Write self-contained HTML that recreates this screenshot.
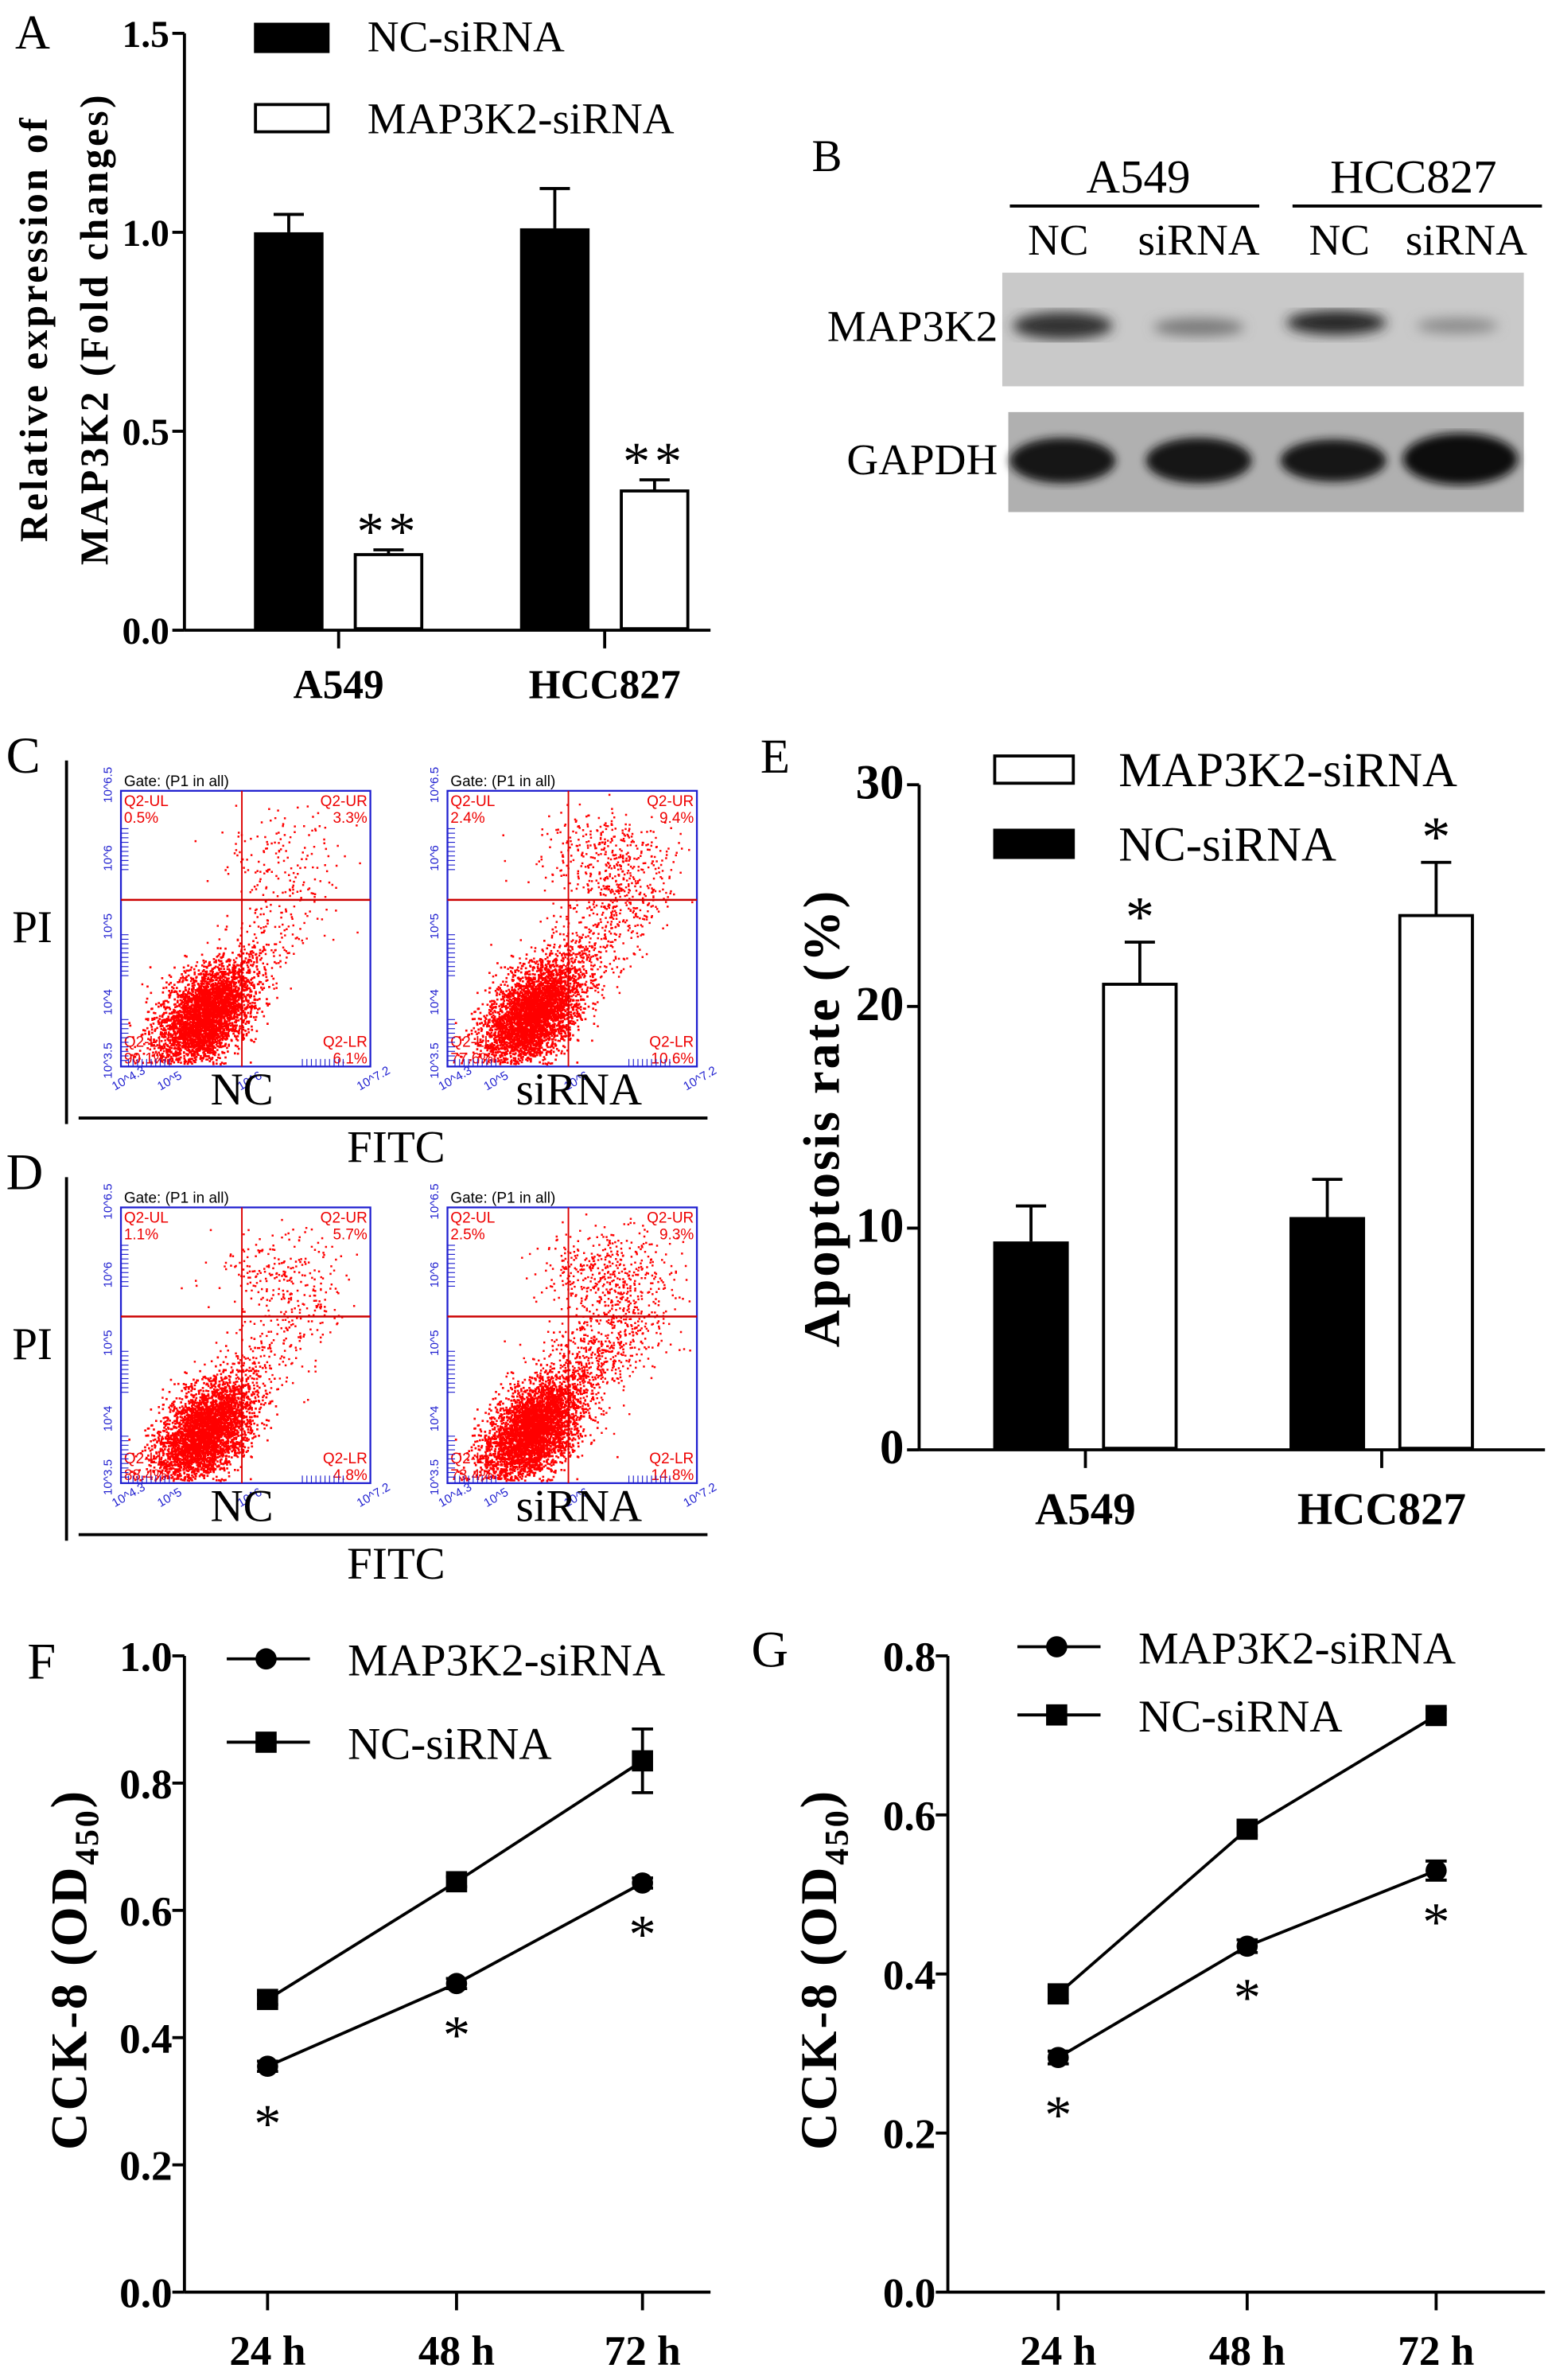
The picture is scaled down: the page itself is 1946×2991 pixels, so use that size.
<!DOCTYPE html>
<html><head><meta charset="utf-8">
<style>
html,body{margin:0;padding:0;background:#fff;}
svg{display:block;font-family:"Liberation Serif",serif;}
</style></head>
<body>
<svg id="fig" width="1946" height="2991" viewBox="0 0 1024 1571" preserveAspectRatio="none" xmlns="http://www.w3.org/2000/svg">
<rect x="0" y="0" width="1024" height="1571" fill="#fff"/>
<g id="gA"></g>
<g id="gB">
  <text x="537" y="113" font-size="30">B</text>
  <text x="753" y="127" font-size="31" text-anchor="middle">A549</text>
  <line x1="668" y1="136" x2="833" y2="136" stroke="#000" stroke-width="2"/>
  <text x="935" y="127" font-size="31" text-anchor="middle">HCC827</text>
  <line x1="855" y1="136" x2="1020" y2="136" stroke="#000" stroke-width="2"/>
  <text x="700" y="168" font-size="29" text-anchor="middle">NC</text>
  <text x="793" y="168" font-size="29" text-anchor="middle">siRNA</text>
  <text x="886" y="168" font-size="29" text-anchor="middle">NC</text>
  <text x="970" y="168" font-size="29" text-anchor="middle">siRNA</text>
  <text x="660" y="225" font-size="29" text-anchor="end">MAP3K2</text>
  <text x="660" y="313" font-size="29" text-anchor="end">GAPDH</text>
  <defs>
    <filter id="blur4"><feGaussianBlur stdDeviation="4"/></filter>
    <filter id="blur3"><feGaussianBlur stdDeviation="3"/></filter>
  </defs>
  <rect x="663" y="180" width="345" height="75" fill="#c9c9c9"/>
  <g filter="url(#blur4)">
    <ellipse cx="703" cy="215" rx="33" ry="9" fill="#303030"/>
    <ellipse cx="793" cy="216" rx="30" ry="6" fill="#7a7a7a"/>
    <ellipse cx="884" cy="213" rx="33" ry="8" fill="#282828"/>
    <ellipse cx="964" cy="215" rx="27" ry="5" fill="#8a8a8a"/>
  </g>
  <rect x="667" y="272" width="341" height="66" fill="#b0b0b0"/>
  <g filter="url(#blur3)">
    <ellipse cx="703" cy="304" rx="35" ry="15" fill="#151515"/>
    <ellipse cx="793" cy="304" rx="35" ry="15" fill="#151515"/>
    <ellipse cx="882" cy="304" rx="35" ry="14" fill="#181818"/>
    <ellipse cx="966" cy="303" rx="38" ry="17" fill="#111"/>
  </g>
</g>
<g id="gCD"></g>
<g id="gE"></g>
<g id="gF"></g>
<g id="gG"></g>
</svg>
<script>
// ---------- Panel A data ----------
const aCategories = ["A549", "HCC827"];
const aNC = [1.0, 1.01];
const aNCErr = [0.045, 0.10];
const aSi = [0.19, 0.35];
const aSiErr = [0.012, 0.028];
const aTicks = [0, 0.5, 1.0, 1.5];
const aTickLabels = ["0.0", "0.5", "1.0", "1.5"];
const aStars = ["**", "**"];
// ---------- Panel E data ----------
const eCategories = ["A549", "HCC827"];
const eNC = [9.4, 10.5];
const eNCErr = [1.6, 1.7];
const eSi = [21.0, 24.1];
const eSiErr = [1.9, 2.4];
const eTicks = [0, 10, 20, 30];
const eTickLabels = ["0", "10", "20", "30"];
const eStars = ["*", "*"];
// ---------- Panel F data ----------
const fTimes = ["24 h", "48 h", "72 h"];
const fMAP = [0.355, 0.485, 0.643];
const fMAPErr = [0.008, 0.008, 0.008];
const fNC = [0.46, 0.645, 0.835];
const fNCErr = [0.008, 0.008, 0.05];
const fTicks = [0, 0.2, 0.4, 0.6, 0.8, 1.0];
const fTickLabels = ["0.0", "0.2", "0.4", "0.6", "0.8", "1.0"];
// ---------- Panel G data ----------
const gTimes = ["24 h", "48 h", "72 h"];
const gMAP = [0.295, 0.435, 0.53];
const gMAPErr = [0.008, 0.008, 0.012];
const gNC = [0.375, 0.582, 0.725];
const gNCErr = [0.008, 0.008, 0.008];
const gTicks = [0, 0.2, 0.4, 0.6, 0.8];
const gTickLabels = ["0.0", "0.2", "0.4", "0.6", "0.8"];
// ---------- Flow cytometry quadrant percentages ----------
const flowUL = ["0.5%", "2.4%", "1.1%", "2.5%"];
const flowUR = ["3.3%", "9.4%", "5.7%", "9.3%"];
const flowLL = ["90.1%", "77.6%", "88.4%", "73.4%"];
const flowLR = ["6.1%", "10.6%", "4.8%", "14.8%"];

const NS = "http://www.w3.org/2000/svg";
function mk(parent, tag, attrs, text) {
  const e = document.createElementNS(NS, tag);
  for (const k in attrs) e.setAttribute(k, attrs[k]);
  if (text !== undefined) e.textContent = text;
  parent.appendChild(e);
  return e;
}

// ===== Bar chart panels =====
function barPanel(g, o) {
  const y = v => o.y0 - (v - 0) / o.vmax * (o.y0 - o.yTop);
  let ax = mk(g, "line", {x1:o.x0, y1:o.yTop, x2:o.x0, y2:o.y0, stroke:"#000", "stroke-width":2});
  
  
  let bx = mk(g, "line", {x1:o.x0, y1:o.y0, x2:o.xEnd, y2:o.y0, stroke:"#000", "stroke-width":2});
  
  
  o.ticks.forEach((t, i) => {
    mk(g, "line", {x1:o.x0-8, y1:y(t), x2:o.x0, y2:y(t), stroke:"#000", "stroke-width":2});
    let tl = mk(g, "text", {x:o.x0-10, y:y(t)+9, "font-size":o.tfs, "font-weight":"bold", "text-anchor":"end"}, o.tickLabels[i]);
    
    
  });
  o.cats.forEach((c, i) => {
    const cx = o.catX[i];
    mk(g, "line", {x1:cx, y1:o.y0, x2:cx, y2:o.y0+12, stroke:"#000", "stroke-width":2});
    let cl = mk(g, "text", {x:cx, y:o.catY, "font-size":o.cfs, "font-weight":"bold", "text-anchor":"middle"}, c);
    
    
    const xn = cx - o.gap/2 - o.bw;
    mk(g, "line", {x1:xn+o.bw/2, y1:y(o.nc[i]), x2:xn+o.bw/2, y2:y(o.nc[i]+o.ncErr[i]), stroke:"#000", "stroke-width":2});
    mk(g, "line", {x1:xn+o.bw/2-10, y1:y(o.nc[i]+o.ncErr[i]), x2:xn+o.bw/2+10, y2:y(o.nc[i]+o.ncErr[i]), stroke:"#000", "stroke-width":2});
    let b1 = mk(g, "rect", {x:xn, y:y(o.nc[i]), width:o.bw, height:o.y0-y(o.nc[i]), fill:"#000"});
    
    
    const xs = cx + o.gap/2;
    mk(g, "line", {x1:xs+o.bw/2, y1:y(o.si[i]), x2:xs+o.bw/2, y2:y(o.si[i]+o.siErr[i]), stroke:"#000", "stroke-width":2});
    mk(g, "line", {x1:xs+o.bw/2-10, y1:y(o.si[i]+o.siErr[i]), x2:xs+o.bw/2+10, y2:y(o.si[i]+o.siErr[i]), stroke:"#000", "stroke-width":2});
    let b2 = mk(g, "rect", {x:xs+1, y:y(o.si[i]), width:o.bw-2, height:o.y0-y(o.si[i])-1, fill:"#fff", stroke:"#000", "stroke-width":2});
    
    
    let st = mk(g, "text", {x:xs+o.bw/2, y:y(o.si[i]+o.siErr[i])-o.starOff, "font-size":o.sfs, "text-anchor":"middle", "letter-spacing":o.sls}, o.stars[i]);
    
    
  });
}

// Panel A
const gA = document.getElementById("gA");
mk(gA, "text", {x:10, y:32, "font-size":32}, "A");
barPanel(gA, {x0:122, y0:416, yTop:22, xEnd:470, vmax:1.5, ticks:aTicks, tickLabels:aTickLabels, tfs:25, cfs:27,
  cats:aCategories, catX:[224, 400], catY:461, bw:46, gap:20, nc:aNC, ncErr:aNCErr, si:aSi, siErr:aSiErr, stars:aStars, starOff:0, sfs:36, sls:3});
let aYL = mk(gA, "text", {transform:"translate(31,217) rotate(-90)", "font-size":26, "font-weight":"bold", "text-anchor":"middle", "letter-spacing":1.8}, "Relative expression of");

let aYL2 = mk(gA, "text", {transform:"translate(71,217) rotate(-90)", "font-size":26, "font-weight":"bold", "text-anchor":"middle", "letter-spacing":1.8}, "MAP3K2 (Fold changes)");

mk(gA, "rect", {x:168, y:15, width:50, height:20, fill:"#000"});
mk(gA, "text", {x:243, y:34, "font-size":29}, "NC-siRNA");
mk(gA, "rect", {x:169, y:69, width:48, height:18, fill:"#fff", stroke:"#000", "stroke-width":2});
mk(gA, "text", {x:243, y:88, "font-size":29}, "MAP3K2-siRNA");

// Panel E
const gE = document.getElementById("gE");
mk(gE, "text", {x:503, y:510, "font-size":32}, "E");
barPanel(gE, {x0:608, y0:957, yTop:518, xEnd:1022, vmax:30, ticks:eTicks, tickLabels:eTickLabels, tfs:32, cfs:30,
  cats:eCategories, catX:[718, 914], catY:1006, bw:50, gap:22, nc:eNC, ncErr:eNCErr, si:eSi, siErr:eSiErr, stars:eStars, starOff:4, sfs:38, sls:0});
let eYL = mk(gE, "text", {transform:"translate(555,738) rotate(-90)", "font-size":34, "font-weight":"bold", "text-anchor":"middle", "letter-spacing":1.5}, "Apoptosis rate (%)");

mk(gE, "rect", {x:658, y:499, width:52, height:18, fill:"#fff", stroke:"#000", "stroke-width":2});
mk(gE, "text", {x:740, y:519, "font-size":32}, "MAP3K2-siRNA");
mk(gE, "rect", {x:657, y:547, width:54, height:20, fill:"#000"});
mk(gE, "text", {x:740, y:568, "font-size":32}, "NC-siRNA");

// ===== Line panels =====
function linePanel(g, o) {
  const y = v => o.y0 - v / o.vmax * (o.y0 - o.yTop);
  let ax = mk(g, "line", {x1:o.x0, y1:o.yTop, x2:o.x0, y2:o.y0, stroke:"#000", "stroke-width":2});
  
  
  let bx = mk(g, "line", {x1:o.x0, y1:o.y0, x2:o.xEnd, y2:o.y0, stroke:"#000", "stroke-width":2});
  
  
  o.ticks.forEach((t, i) => {
    mk(g, "line", {x1:o.x0-8, y1:y(t), x2:o.x0, y2:y(t), stroke:"#000", "stroke-width":2});
    let tl = mk(g, "text", {x:o.x0-8, y:y(t)+10, "font-size":28, "font-weight":"bold", "text-anchor":"end"}, o.tickLabels[i]);
    
    
  });
  o.times.forEach((t, i) => {
    mk(g, "line", {x1:o.xs[i], y1:o.y0, x2:o.xs[i], y2:o.y0+12, stroke:"#000", "stroke-width":2});
    let xl = mk(g, "text", {x:o.xs[i], y:o.y0+48, "font-size":28, "font-weight":"bold", "text-anchor":"middle"}, t);
    
    
  });
  function series(vals, errs, shape, name) {
    let pts = vals.map((v, i) => o.xs[i] + "," + y(v)).join(" ");
    let pl = mk(g, "polyline", {points:pts, fill:"none", stroke:"#000", "stroke-width":2});
    
    
    vals.forEach((v, i) => {
      const cx = o.xs[i], cy = y(v), e1 = y(v + errs[i]), e2 = y(v - errs[i]);
      mk(g, "line", {x1:cx, y1:e1, x2:cx, y2:e2, stroke:"#000", "stroke-width":2});
      mk(g, "line", {x1:cx-7, y1:e1, x2:cx+7, y2:e1, stroke:"#000", "stroke-width":2});
      mk(g, "line", {x1:cx-7, y1:e2, x2:cx+7, y2:e2, stroke:"#000", "stroke-width":2});
      let m = shape === "c" ? mk(g, "circle", {cx:cx, cy:cy, r:7, fill:"#000"})
                            : mk(g, "rect", {x:cx-7, y:cy-7, width:14, height:14, fill:"#000"});
      
      
      if (shape === "c") {
        let s = mk(g, "text", {x:cx, y:cy+o.starOff[i], "font-size":36, "text-anchor":"middle"}, "*");
        
        
      }
    });
  }
  series(o.nc, o.ncErr, "s", "nc-sirna");
  series(o.map, o.mapErr, "c", "map3k2-sirna");
  mk(g, "line", {x1:o.lx, y1:o.ly1, x2:o.lx+55, y2:o.ly1, stroke:"#000", "stroke-width":2});
  mk(g, "circle", {cx:o.lx+26, cy:o.ly1, r:7, fill:"#000"});
  mk(g, "text", {x:o.lx+80, y:o.ly1+11, "font-size":30}, "MAP3K2-siRNA");
  mk(g, "line", {x1:o.lx, y1:o.ly2, x2:o.lx+55, y2:o.ly2, stroke:"#000", "stroke-width":2});
  mk(g, "rect", {x:o.lx+19, y:o.ly2-7, width:14, height:14, fill:"#000"});
  mk(g, "text", {x:o.lx+80, y:o.ly2+11, "font-size":30}, "NC-siRNA");
  let yl = mk(g, "text", {transform:"translate(" + o.ylx + ",1300) rotate(-90)", "font-size":34, "font-weight":"bold", "text-anchor":"middle", "letter-spacing":1.5});
  
  yl.innerHTML = 'CCK-8 (OD<tspan font-size="22" dy="8">450</tspan><tspan dy="-8">)</tspan>';
}
const gF = document.getElementById("gF");
mk(gF, "text", {x:18, y:1108, "font-size":34}, "F");
linePanel(gF, {x0:122, y0:1513, yTop:1093, xEnd:470, vmax:1.0, ticks:fTicks, tickLabels:fTickLabels, times:fTimes, xs:[177,302,425],
  map:fMAP, mapErr:fMAPErr, nc:fNC, ncErr:fNCErr, starOff:[50,46,46], lx:150, ly1:1095, ly2:1150, ylx:57});
const gG = document.getElementById("gG");
mk(gG, "text", {x:497, y:1100, "font-size":34}, "G");
linePanel(gG, {x0:627, y0:1513, yTop:1093, xEnd:1022, vmax:0.8, ticks:gTicks, tickLabels:gTickLabels, times:gTimes, xs:[700,825,950],
  map:gMAP, mapErr:gMAPErr, nc:gNC, ncErr:gNCErr, starOff:[50,46,46], lx:673, ly1:1087, ly2:1132, ylx:553});

// ===== Flow cytometry panels C & D (dot texture from seeded generator) =====
const gCD = document.getElementById("gCD");
let seed = 12345;
function rnd() { seed = (seed * 1103515245 + 12345) % 2147483648; return seed / 2147483648; }
function gauss() { let u = rnd() || 1e-6, v = rnd(); return Math.sqrt(-2*Math.log(u)) * Math.cos(2*Math.PI*v); }
function flowPlot(bx, by, idx, upper, spread) {
  const w = 165, h = 182;
  const g = mk(gCD, "g", {});
  
  
  mk(g, "text", {x:2+bx, y:by-3, "font-size":10, "font-family":"Liberation Sans, sans-serif"}, "Gate: (P1 in all)");
  const vx = bx + 80, hy = by + 72;
  let d = "";
  const nMain = 3600;
  for (let i = 0; i < nMain; i++) {
    const a = gauss(), b = gauss();
    const x = bx + 55 + a*14 + b*7, y = by + 148 - a*14 + b*10;
    if (x > bx+2 && x < bx+w-2 && y > by+2 && y < by+h-2) d += "M" + x.toFixed(1) + " " + y.toFixed(1) + "h1.4v1.4h-1.4z";
  }
  for (let i = 0; i < upper; i++) {
    const x = bx + 105 + gauss()*22, y = by + 42 + gauss()*14;
    if (x > bx+2 && x < bx+w-2 && y > by+2 && y < by+h-2) d += "M" + x.toFixed(1) + " " + y.toFixed(1) + "h1.3v1.3h-1.3z";
  }
  for (let i = 0; i < spread; i++) {
    const t = rnd();
    const x = bx + 60 + t*70 + gauss()*14, y = by + 140 - t*80 + gauss()*14;
    if (x > bx+2 && x < bx+w-2 && y > by+2 && y < by+h-2) d += "M" + x.toFixed(1) + " " + y.toFixed(1) + "h1.3v1.3h-1.3z";
  }
  mk(g, "path", {d:d, fill:"#f00"});
  mk(g, "rect", {x:bx, y:by, width:w, height:h, fill:"none", stroke:"#2020d0", "stroke-width":1.2});
  mk(g, "line", {x1:vx, y1:by, x2:vx, y2:by+h, stroke:"#d00", "stroke-width":1});
  mk(g, "line", {x1:bx, y1:hy, x2:bx+w, y2:hy, stroke:"#c00", "stroke-width":1.3});
  const fs = {"font-size":10, fill:"#e00", "font-family":"Liberation Sans, sans-serif"};
  mk(g, "text", Object.assign({x:bx+2, y:by+10}, fs), "Q2-UL");
  mk(g, "text", Object.assign({x:bx+2, y:by+21}, fs), flowUL[idx]);
  mk(g, "text", Object.assign({x:bx+w-2, y:by+10, "text-anchor":"end"}, fs), "Q2-UR");
  mk(g, "text", Object.assign({x:bx+w-2, y:by+21, "text-anchor":"end"}, fs), flowUR[idx]);
  mk(g, "text", Object.assign({x:bx+2, y:by+h-13}, fs), "Q2-LL");
  mk(g, "text", Object.assign({x:bx+2, y:by+h-2}, fs), flowLL[idx]);
  mk(g, "text", Object.assign({x:bx+w-2, y:by+h-13, "text-anchor":"end"}, fs), "Q2-LR");
  mk(g, "text", Object.assign({x:bx+w-2, y:by+h-2, "text-anchor":"end"}, fs), flowLR[idx]);
  const bf = {"font-size":8, fill:"#2020d0", "font-family":"Liberation Sans, sans-serif"};
  [["10^6.5",0],["10^6",45],["10^5",90],["10^4",140],["10^3.5",h]].forEach(p => {
    mk(g, "text", Object.assign({transform:"translate(" + (bx-6) + "," + (by+p[1]+8) + ") rotate(-90)"}, bf), p[0]);
  });
  [["10^4.3",0],["10^5",30],["10^6",83],["10^7.2",h-20]].forEach(p => {
    mk(g, "text", Object.assign({transform:"translate(" + (bx+p[1]-4) + "," + (by+h+16) + ") rotate(-30)"}, bf), p[0]);
  });
  for (let k = 0; k < 10; k++) {
    mk(g, "line", {x1:bx, y1:by+h-4-k*3, x2:bx+5, y2:by+h-4-k*3, stroke:"#2020d0", "stroke-width":0.6});
    mk(g, "line", {x1:bx+5+k*3, y1:by+h, x2:bx+5+k*3, y2:by+h-5, stroke:"#2020d0", "stroke-width":0.6});
    mk(g, "line", {x1:bx+120+k*3, y1:by+h, x2:bx+120+k*3, y2:by+h-5, stroke:"#2020d0", "stroke-width":0.6});
    mk(g, "line", {x1:bx, y1:by+95+k*3, x2:bx+5, y2:by+95+k*3, stroke:"#2020d0", "stroke-width":0.6});
    mk(g, "line", {x1:bx, y1:by+25+k*3, x2:bx+5, y2:by+25+k*3, stroke:"#2020d0", "stroke-width":0.6});
  }
}
function flowBlock(top, letter, iNC, iSi, upNC, upSi, spNC, spSi) {
  mk(gCD, "text", {x:4, y:top-12, "font-size":34}, letter);
  mk(gCD, "line", {x1:44, y1:top-20, x2:44, y2:top+220, stroke:"#000", "stroke-width":2});
  mk(gCD, "text", {x:8, y:top+100, "font-size":30}, "PI");
  flowPlot(80, top, iNC, upNC, spNC);
  flowPlot(296, top, iSi, upSi, spSi);
  mk(gCD, "text", {x:160, y:top+207, "font-size":30, "text-anchor":"middle"}, "NC");
  mk(gCD, "text", {x:383, y:top+207, "font-size":30, "text-anchor":"middle"}, "siRNA");
  mk(gCD, "line", {x1:52, y1:top+216, x2:468, y2:top+216, stroke:"#000", "stroke-width":2});
  mk(gCD, "text", {x:262, y:top+245, "font-size":30, "text-anchor":"middle"}, "FITC");
}
flowBlock(522, "C", 0, 1, 120, 350, 250, 700);
flowBlock(797, "D", 2, 3, 220, 400, 300, 900);
</script>
</body></html>
